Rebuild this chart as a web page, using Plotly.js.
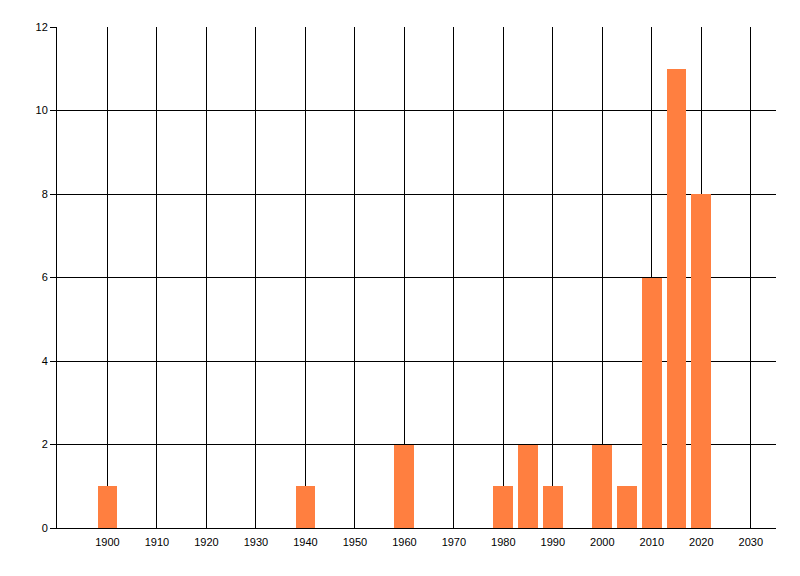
<!DOCTYPE html>
<html>
<head>
<meta charset="utf-8">
<script src="https://cdn.plot.ly/plotly-3.0.1.min.js"></script>
<style>
  html, body { margin: 0; padding: 0; background: #fff; }
  #chart { width: 800px; height: 576px; }
</style>
</head>
<body>
<div id="chart"></div>
<script>
// year buckets and counts
const years = [1900, 1940, 1960, 1980, 1985, 1990, 2000, 2005, 2010, 2015, 2020];
const counts = [1, 1, 2, 1, 2, 1, 2, 1, 6, 11, 8];
const xTicks = [1900, 1910, 1920, 1930, 1940, 1950, 1960, 1970, 1980, 1990, 2000, 2010, 2020, 2030];
const yTicks = [0, 2, 4, 6, 8, 10, 12];

const axisFont = { family: "Liberation Sans, Arial, sans-serif", size: 11, color: "#000" };

Plotly.newPlot(
  "chart",
  [
    {
      x: years,
      y: counts,
      type: "bar",
      width: 4,
      marker: { color: "#FF7F40", line: { width: 0 } },
      hoverinfo: "x+y",
    },
  ],
  {
    width: 800,
    height: 576,
    margin: { l: 57, r: 24, t: 27, b: 48 },
    paper_bgcolor: "#fff",
    plot_bgcolor: "#fff",
    showlegend: false,
    bargap: 0,
    xaxis: {
      range: [1889.8, 2035.1],
      tickvals: xTicks,
      ticktext: xTicks.map(String),
      showgrid: true,
      gridcolor: "#000",
      gridwidth: 1,
      showline: true,
      linecolor: "#000",
      linewidth: 1,
      ticks: "",
      ticklabelstandoff: 4,
      zeroline: false,
      tickfont: axisFont,
      fixedrange: true,
    },
    yaxis: {
      range: [0, 12],
      tickvals: yTicks,
      showgrid: true,
      gridcolor: "#000",
      gridwidth: 1,
      showline: true,
      linecolor: "#000",
      linewidth: 1,
      ticks: "outside",
      ticklen: 6,
      tickcolor: "#000",
      zeroline: false,
      tickfont: axisFont,
      fixedrange: true,
    },
  },
  { displayModeBar: false, staticPlot: true }
);
</script>
</body>
</html>
